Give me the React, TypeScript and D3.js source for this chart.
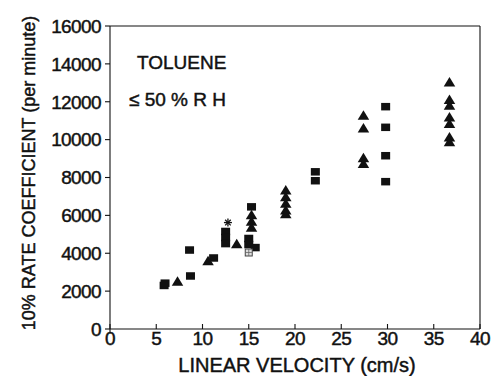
import React from "react";
import * as d3 from "d3";

const xTicks = [0, 5, 10, 15, 20, 25, 30, 35, 40];
const yTicks = [0, 2000, 4000, 6000, 8000, 10000, 12000, 14000, 16000];

const squareX = [5.85, 5.95, 8.7, 8.6, 11.2, 12.5, 12.5, 12.5, 15.0, 15.0, 15.7, 15.3, 22.2, 22.2, 29.8, 29.8, 29.8, 29.8];
const squareY = [2300, 2420, 2800, 4170, 3750, 5150, 4830, 4510, 4780, 4460, 4300, 6450, 8300, 7830, 11740, 10650, 9150, 7780];

const triX = [7.3, 10.6, 13.7, 15.3, 15.3, 15.3, 19.0, 19.0, 19.0, 19.0, 19.0, 27.4, 27.4, 27.4, 27.4, 36.7, 36.7, 36.7, 36.7, 36.7, 36.7, 36.7];
const triY = [2530, 3620, 4520, 6050, 5700, 5380, 7350, 7000, 6650, 6300, 6100, 11300, 10630, 9050, 8750, 13060, 12130, 11830, 11210, 10860, 10150, 9900];

const starX = [12.75];
const starY = [5620];

const openX = [15.0];
const openY = [4040];

const W = 492;
const H = 376;
const FONT = "'Liberation Sans', Arial, Helvetica, sans-serif";

export default function App() {
  const x = d3.scaleLinear().domain([0, 40]).range([110, 480]);
  const y = d3.scaleLinear().domain([0, 16000]).range([329, 26]);
  const ink = "#111";
  const textStyle = { stroke: ink, strokeWidth: 0.45 };

  const sqW = 9;
  const sqH = 7.5;
  const triPath = (cx: number, cy: number) => {
    const w = 11.5, h = 9.5;
    return `M${cx - w / 2},${cy + h / 2}L${cx + w / 2},${cy + h / 2}L${cx},${cy - h / 2}Z`;
  };

  return (
    <svg width={W} height={H} style={{ position: "absolute", left: 0, top: 0, background: "#fff" }}>
      <rect x={0} y={0} width={W} height={H} fill="#fff" />
      {/* frame */}
      <line x1={x(0)} x2={x(0)} y1={y(16000)} y2={y(0) + 4} stroke={ink} strokeWidth={1.1} />
      <line x1={x(0)} x2={x(40)} y1={y(0)} y2={y(0)} stroke={ink} strokeWidth={1.1} />
      <line x1={x(0)} x2={x(40)} y1={y(16000)} y2={y(16000)} stroke={ink} strokeWidth={1.1} />
      <line x1={x(40)} x2={x(40)} y1={y(16000)} y2={y(0)} stroke={ink} strokeWidth={1.1} />

      {/* y ticks */}
      {yTicks.map((t) => (
        <g key={"yt" + t}>
          <line x1={x(0) - 5} x2={x(0)} y1={y(t)} y2={y(t)} stroke={ink} strokeWidth={1.1} />
          <text x={101} y={y(t)} dy="0.36em" textAnchor="end" fontFamily={FONT} fontSize={19} fill={ink} letterSpacing={-0.6} style={textStyle}>
            {t}
          </text>
        </g>
      ))}
      {/* x ticks */}
      {xTicks.map((t) => (
        <g key={"xt" + t}>
          <line x1={x(t)} x2={x(t)} y1={y(0) - 5} y2={y(0)} stroke={ink} strokeWidth={1.1} />
          <text x={x(t)} y={345} textAnchor="middle" fontFamily={FONT} fontSize={19} fill={ink} letterSpacing={-0.6} style={textStyle}>
            {t}
          </text>
        </g>
      ))}

      {/* axis titles */}
      <text x={297} y={372} textAnchor="middle" fontFamily={FONT} fontSize={20} fill={ink} style={textStyle}>
        LINEAR VELOCITY (cm/s)
      </text>
      <text transform="translate(35,173) rotate(-90)" textAnchor="middle" fontFamily={FONT} fontSize={18} fill={ink} style={textStyle}>
        10% RATE COEFFICIENT (per minute)
      </text>

      {/* annotations */}
      <text x={137} y={69} fontFamily={FONT} fontSize={19} fill={ink} style={textStyle}>TOLUENE</text>
      <text x={129} y={106} fontFamily={FONT} fontSize={19} fill={ink} style={textStyle}>≤ 50 % R H</text>

      {/* squares */}
      {squareX.map((v, i) => (
        <rect key={"s" + i} x={x(v) - sqW / 2} y={y(squareY[i]) - sqH / 2} width={sqW} height={sqH} fill={ink} />
      ))}
      {/* triangles */}
      {triX.map((v, i) => (
        <path key={"t" + i} d={triPath(x(v), y(triY[i]))} fill={ink} />
      ))}
      {/* asterisk */}
      {starX.map((v, i) => {
        const cx = x(v), cy = y(starY[i]), r = 4;
        return (
          <g key={"a" + i} stroke={ink} strokeWidth={1.3}>
            <line x1={cx - r} x2={cx + r} y1={cy} y2={cy} />
            <line x1={cx - r * 0.7} x2={cx + r * 0.7} y1={cy - r * 0.7} y2={cy + r * 0.7} />
            <line x1={cx - r * 0.7} x2={cx + r * 0.7} y1={cy + r * 0.7} y2={cy - r * 0.7} />
            <line x1={cx} x2={cx} y1={cy - r} y2={cy + r} />
          </g>
        );
      })}
      {/* open hatched symbol */}
      {openX.map((v, i) => {
        const cx = x(v), cy = y(openY[i]);
        return (
          <g key={"o" + i}>
            <rect x={cx - 3.5} y={cy - 3.5} width={7} height={7} fill="#ddd" stroke="#444" strokeWidth={1} />
            <line x1={cx - 3.5} x2={cx + 3.5} y1={cy} y2={cy} stroke="#666" strokeWidth={0.8} />
            <line x1={cx} x2={cx} y1={cy - 3.5} y2={cy + 3.5} stroke="#666" strokeWidth={0.8} />
          </g>
        );
      })}
    </svg>
  );
}
